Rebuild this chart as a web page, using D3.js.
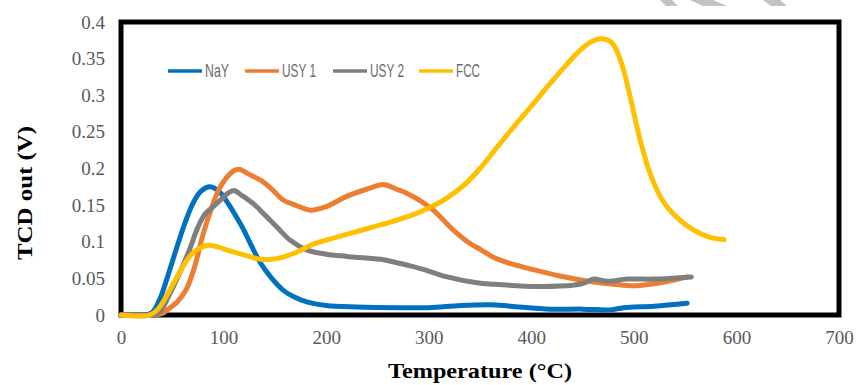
<!DOCTYPE html>
<html>
<head>
<meta charset="utf-8">
<script src="https://cdnjs.cloudflare.com/ajax/libs/d3/7.8.5/d3.min.js"></script>
<style>
    body { margin: 0; background: #fff; }
    svg { display: block; }
</style>
</head>
<body>
<svg role="chart" width="856" height="385"></svg>
<script>
// series names and colours
var seriesNames = ['NaY', 'USY 1', 'USY 2', 'FCC'];
var seriesColors = ['#0070C0', '#ED7D31', '#7F7F7F', '#FFC000'];

// temperature (°C), TCD signal (V)
var nay = [
    [0, 0], [20, 0], [30, 0.003], [38, 0.022], [46, 0.055], [55, 0.095], [63, 0.128],
    [70, 0.152], [78, 0.169], [87, 0.175], [96, 0.168], [105, 0.151], [112, 0.135],
    [119, 0.118], [127, 0.095], [136, 0.071], [147, 0.05], [158, 0.034], [170, 0.024],
    [181, 0.018], [200, 0.013], [230, 0.011], [270, 0.01], [300, 0.01], [331, 0.013],
    [360, 0.014], [380, 0.012], [419, 0.008], [450, 0.008], [477, 0.007], [490, 0.01],
    [520, 0.012], [552, 0.016]
];
var usy1 = [
    [0, 0], [30, 0], [40, 0.002], [45, 0.007], [55, 0.018], [64, 0.036], [72, 0.067],
    [80, 0.11], [88, 0.145], [95, 0.17], [103, 0.188], [110, 0.197], [115, 0.199],
    [125, 0.192], [136, 0.184], [147, 0.172], [158, 0.157], [170, 0.15], [185, 0.143],
    [200, 0.148], [220, 0.162], [240, 0.172], [256, 0.178], [268, 0.172], [279, 0.166],
    [302, 0.146], [324, 0.116], [340, 0.098], [351, 0.089], [364, 0.078], [380, 0.07],
    [396, 0.064], [429, 0.053], [461, 0.045], [480, 0.042], [503, 0.04], [530, 0.045],
    [552, 0.052]
];
var usy2 = [
    [0, 0], [30, 0], [38, 0.005], [48, 0.03], [58, 0.06], [67, 0.09], [75, 0.12],
    [82, 0.138], [90, 0.148], [97, 0.157], [104, 0.166], [110, 0.17], [118, 0.163],
    [129, 0.152], [140, 0.137], [152, 0.12], [165, 0.102], [181, 0.089], [200, 0.083],
    [220, 0.08], [253, 0.076], [270, 0.071], [285, 0.066], [300, 0.06], [318, 0.052],
    [347, 0.044], [363, 0.042], [406, 0.039], [442, 0.041], [452, 0.044], [461, 0.049],
    [474, 0.046], [494, 0.049], [520, 0.049], [556, 0.052]
];
var fcc = [
    [0, 0], [28, 0], [36, 0.008], [44, 0.025], [51, 0.043], [60, 0.065], [67, 0.08],
    [75, 0.09], [84, 0.095], [94, 0.093], [103, 0.089], [120, 0.082], [136, 0.076],
    [152, 0.077], [170, 0.085], [188, 0.097], [220, 0.11], [253, 0.123], [270, 0.13],
    [285, 0.137], [300, 0.146], [318, 0.16], [335, 0.178], [350, 0.2], [366, 0.228],
    [383, 0.257], [400, 0.285], [416, 0.312], [432, 0.338], [448, 0.362],
    [460, 0.374], [469, 0.377], [479, 0.371], [489, 0.339], [497, 0.294], [507, 0.234],
    [517, 0.189], [530, 0.152], [549, 0.125], [572, 0.107], [588, 0.103]
];
var allSeries = [nay, usy1, usy2, fcc];

// tick values
var xTicks = [0, 100, 200, 300, 400, 500, 600, 700];
var yTicks = [0, 0.05, 0.1, 0.15, 0.2, 0.25, 0.3, 0.35, 0.4];

var box = { left: 121, right: 839, top: 22, bottom: 315 };

var x = d3.scaleLinear().domain([0, 700]).range([box.left, box.right]);
var y = d3.scaleLinear().domain([0, 0.4]).range([box.bottom, box.top]);

var svg = d3.select('[role="chart"]');

// faint watermark strokes at the top edge
var marks = [
    [[660, 0], [672, 0], [678, 6], [666, 6]],
    [[690, 0], [713, 0], [727, 6], [703, 6]],
    [[763, 0], [780, 0], [787, 6], [771, 6]]
];
svg.selectAll('polygon.mark')
    .data(marks)
    .enter()
    .append('polygon')
    .attr('points', function (d) { return d.join(' '); })
    .attr('fill', '#c3c3c3');

// plot frame
svg.append('rect')
    .attr('x', box.left)
    .attr('y', box.top)
    .attr('width', box.right - box.left)
    .attr('height', box.bottom - box.top)
    .attr('fill', 'none')
    .attr('stroke', '#000')
    .attr('stroke-width', 5);

// axes, labels only
var xAxis = d3.axisBottom(x).tickValues(xTicks).tickSize(0).tickPadding(16)
    .tickFormat(d3.format('d'));
var yAxis = d3.axisLeft(y).tickValues(yTicks).tickSize(0).tickPadding(16)
    .tickFormat(function (d) { return d === 0 ? '0' : String(+d.toFixed(2)); });

var gx = svg.append('g')
    .attr('transform', 'translate(0,' + box.bottom + ')')
    .call(xAxis);
var gy = svg.append('g')
    .attr('transform', 'translate(' + box.left + ',0)')
    .call(yAxis);

[gx, gy].forEach(function (g) {
    g.select('.domain').remove();
    g.selectAll('text')
        .attr('fill', '#595959')
        .style('font-family', '"Liberation Serif", "Times New Roman", serif')
        .style('font-size', '19px');
});

// curves
var line = d3.line()
    .x(function (d) { return x(d[0]); })
    .y(function (d) { return y(d[1]); })
    .curve(d3.curveCatmullRom.alpha(0.5));

svg.append('g')
    .selectAll('path')
    .data(allSeries)
    .enter()
    .append('path')
    .attr('d', line)
    .attr('fill', 'none')
    .attr('stroke', function (d, i) { return seriesColors[i]; })
    .attr('stroke-width', 5)
    .attr('stroke-linejoin', 'round')
    .attr('stroke-linecap', 'round');

// legend (condensed labels squeezed to the widths seen in the picture)
var legendX = [168, 245, 333, 419];
var legendW = [24, 34, 34, 24];
var legend = svg.append('g')
    .selectAll('g')
    .data(seriesNames)
    .enter()
    .append('g')
    .attr('transform', function (d, i) { return 'translate(' + legendX[i] + ',71)'; });

legend.append('line')
    .attr('x1', 0).attr('x2', 34)
    .attr('stroke', function (d, i) { return seriesColors[i]; })
    .attr('stroke-width', 3.5);

legend.append('text')
    .attr('x', 37)
    .attr('dy', '0.36em')
    .attr('fill', '#6b6b6b')
    .attr('textLength', function (d, i) { return legendW[i]; })
    .attr('lengthAdjust', 'spacingAndGlyphs')
    .style('font-family', '"Liberation Sans", Arial, sans-serif')
    .style('font-size', '18px')
    .text(function (d) { return d; });

// axis titles
svg.append('text')
    .attr('x', (box.left + box.right) / 2)
    .attr('y', 378)
    .attr('text-anchor', 'middle')
    .attr('textLength', 184)
    .attr('lengthAdjust', 'spacingAndGlyphs')
    .style('font-family', '"Liberation Serif", "Times New Roman", serif')
    .style('font-weight', 'bold')
    .style('font-size', '21px')
    .text('Temperature (°C)');

svg.append('text')
    .attr('transform', 'translate(32,193) rotate(-90)')
    .attr('text-anchor', 'middle')
    .attr('textLength', 134)
    .attr('lengthAdjust', 'spacingAndGlyphs')
    .style('font-family', '"Liberation Serif", "Times New Roman", serif')
    .style('font-weight', 'bold')
    .style('font-size', '22px')
    .text('TCD out (V)');
</script>
</body>
</html>
